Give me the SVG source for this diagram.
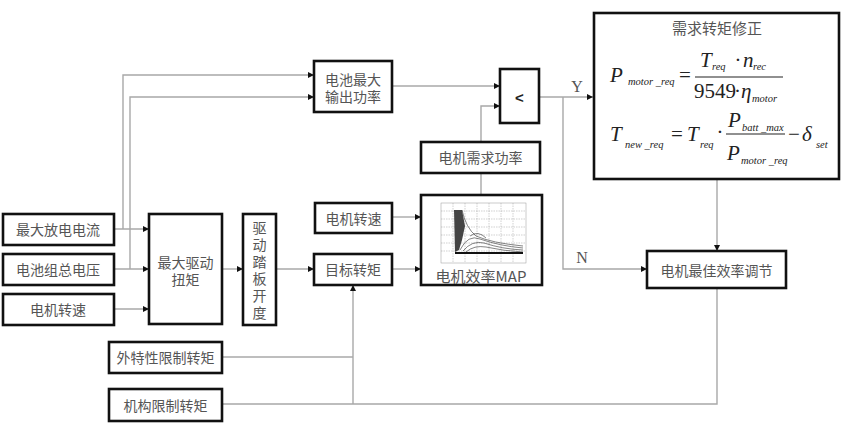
<svg xmlns="http://www.w3.org/2000/svg" width="841" height="431" viewBox="0 0 841 431">
<style>
.box{fill:#fff;stroke:#111;stroke-width:2.6}
.t{font-family:"Noto Sans CJK SC","Noto Sans",sans-serif;font-size:14px;fill:#555;text-anchor:middle;dominant-baseline:central}
.c{fill:none;stroke:#a8a8a8;stroke-width:1.4}
.lbl{font-family:"Liberation Serif",serif;font-size:16px;fill:#555;text-anchor:middle;dominant-baseline:central}
.m{font-family:"Liberation Serif",serif;font-style:italic;font-size:21px;fill:#222}
.s{font-family:"Liberation Serif",serif;font-style:italic;font-size:10.5px;fill:#222}
.n{font-family:"Liberation Serif",serif;font-size:21px;fill:#222}
.g{stroke:#888;stroke-width:0.4;stroke-dasharray:1.5 1;fill:none}
.k{fill:none;stroke:#333;stroke-width:0.6}
</style>
<defs>
<marker id="ar" markerWidth="6" markerHeight="6" refX="6" refY="3" orient="auto" markerUnits="userSpaceOnUse">
<path d="M0,0 L6,3 L0,6 z" fill="#111"/>
</marker>
</defs>

<g id="connectors">
<path class="c" d="M114,229 H149" marker-end="url(#ar)"/>
<path class="c" d="M114,269 H149" marker-end="url(#ar)"/>
<path class="c" d="M114,309 H149" marker-end="url(#ar)"/>
<path class="c" d="M123,229 V75 H314" marker-end="url(#ar)"/>
<path class="c" d="M130,269 V97 H314" marker-end="url(#ar)"/>
<path class="c" d="M222,269 H243" marker-end="url(#ar)"/>
<path class="c" d="M276,269 H314" marker-end="url(#ar)"/>
<path class="c" d="M392,217 H421" marker-end="url(#ar)"/>
<path class="c" d="M392,269 H421" marker-end="url(#ar)"/>
<path class="c" d="M392,86 H500" marker-end="url(#ar)"/>
<path class="c" d="M481,195 V173"/>
<path class="c" d="M481,142 V106 H500" marker-end="url(#ar)"/>
<path class="c" d="M539,97 H593" marker-end="url(#ar)"/>
<path class="c" d="M563,97 V269 H647" marker-end="url(#ar)"/>
<path class="c" d="M717,180 V251" marker-end="url(#ar)"/>
<path class="c" d="M717,288 V404 H222"/>
<path class="c" d="M222,357 H353"/>
<path class="c" d="M353,404 V285" marker-end="url(#ar)"/>
<text class="lbl" x="577" y="86">Y</text>
<text class="lbl" x="582" y="257">N</text>
</g>

<g id="n_current"><rect class="box" x="3" y="214" width="111" height="31"/><text class="t" x="58" y="229">最大放电电流</text></g>
<g id="n_voltage"><rect class="box" x="3" y="254" width="111" height="31"/><text class="t" x="58" y="269">电池组总电压</text></g>
<g id="n_speed1"><rect class="box" x="3" y="294" width="111" height="31"/><text class="t" x="58" y="309">电机转速</text></g>
<g id="n_maxtorque"><rect class="box" x="149" y="214" width="73" height="110"/><text class="t" x="185.5" y="262">最大驱动<tspan x="185.5" dy="17">扭矩</tspan></text></g>
<g id="n_pedal"><rect class="box" x="243" y="214" width="33" height="111"/>
<text x="259.5" y="272" writing-mode="vertical-rl" letter-spacing="3" style="font-family:'Noto Sans CJK SC',sans-serif;font-size:14px;fill:#555;text-anchor:middle">驱动踏板开度</text></g>
<g id="n_battpower"><rect class="box" x="314" y="61" width="78" height="51"/><text class="t" x="353" y="79">电池最大<tspan x="353" dy="17">输出功率</tspan></text></g>
<g id="n_speed2"><rect class="box" x="315" y="203" width="77" height="30"/><text class="t" x="353.5" y="218">电机转速</text></g>
<g id="n_target"><rect class="box" x="314" y="254" width="78" height="31"/><text class="t" x="353" y="269">目标转矩</text></g>
<g id="n_ext"><rect class="box" x="109" y="342" width="113" height="31"/><text class="t" x="165.5" y="357">外特性限制转矩</text></g>
<g id="n_mech"><rect class="box" x="109" y="389" width="113" height="32"/><text class="t" x="165.5" y="405">机构限制转矩</text></g>
<g id="n_reqpower"><rect class="box" x="421" y="142" width="119" height="31"/><text class="t" x="480.5" y="157">电机需求功率</text></g>
<g id="n_cmp"><rect class="box" x="500" y="69" width="39" height="54"/><text x="519.5" y="97" style="font-family:'Liberation Sans',sans-serif;font-size:15px;font-weight:bold;fill:#222;text-anchor:middle;dominant-baseline:central">&lt;</text></g>

<g id="n_map"><rect class="box" x="421" y="195" width="121" height="90"/>
<rect x="441" y="203" width="85" height="60" fill="#fff" stroke="#999" stroke-width="0.5"/>
<path class="g" d="M441,211 H526 M441,219 H526 M441,227 H526 M441,235 H526 M441,243 H526 M441,251 H526 M453,203 V263 M465,203 V263 M477,203 V263 M489,203 V263 M501,203 V263 M513,203 V263"/>
<path d="M454,210 L462,210 L465,226 L462,240 L459,250 L455,252 Z" fill="#444"/>
<path class="k" d="M462,210 Q466,228 476,236 Q492,243 523,246"/>
<path class="k" d="M460,250 Q468,234 480,239 Q500,246 523,248"/>
<path class="k" d="M463,251 Q472,240 484,243 Q502,249 523,250"/>
<path class="k" d="M466,252 Q474,245 486,247 Q504,251 523,252"/>
<path class="k" d="M470,236 Q478,230 486,238"/>
<path d="M455,253 H523" stroke="#111" stroke-width="2.2"/>
<text x="481" y="275" style="font-family:'Noto Sans CJK SC',serif;font-size:15px;fill:#555;text-anchor:middle;dominant-baseline:central">电机效率MAP</text>
</g>

<g id="n_correct"><rect class="box" x="594" y="13" width="245" height="166"/>
<text class="t" x="717" y="27" style="font-size:15px">需求转矩修正</text>
<text class="m" x="610" y="82">P<tspan class="s" x="628" y="85">motor _req</tspan></text>
<text class="n" x="679" y="82">=</text>
<text class="m" x="700" y="67">T<tspan class="s" x="712" y="70">req</tspan><tspan class="n" x="735" y="67">·</tspan><tspan x="743" y="67">n</tspan><tspan class="s" x="753" y="70">rec</tspan></text>
<line x1="695" y1="77" x2="783" y2="77" stroke="#222" stroke-width="1.1"/>
<text class="n" x="694" y="98">9549<tspan x="734">·</tspan><tspan class="m" x="741">η</tspan><tspan class="s" x="752" y="102">motor</tspan></text>
<text class="m" x="610" y="141">T<tspan class="s" x="625" y="148">new _req</tspan></text>
<text class="n" x="671" y="141">=</text>
<text class="m" x="687" y="141">T<tspan class="s" x="700" y="148">req</tspan><tspan class="n" x="717" y="139">·</tspan></text>
<text class="m" x="728" y="127">P<tspan class="s" x="742" y="131">batt _max</tspan></text>
<line x1="726" y1="134" x2="785" y2="134" stroke="#222" stroke-width="1.1"/>
<text class="m" x="727" y="160">P<tspan class="s" x="741" y="164">motor _req</tspan></text>
<text class="n" x="788" y="141">−<tspan class="m" x="802">δ</tspan><tspan class="s" x="816" y="148">set</tspan></text>
</g>

<g id="n_best"><rect class="box" x="647" y="251" width="139" height="37"/><text class="t" x="716.5" y="270">电机最佳效率调节</text></g>
</svg>
